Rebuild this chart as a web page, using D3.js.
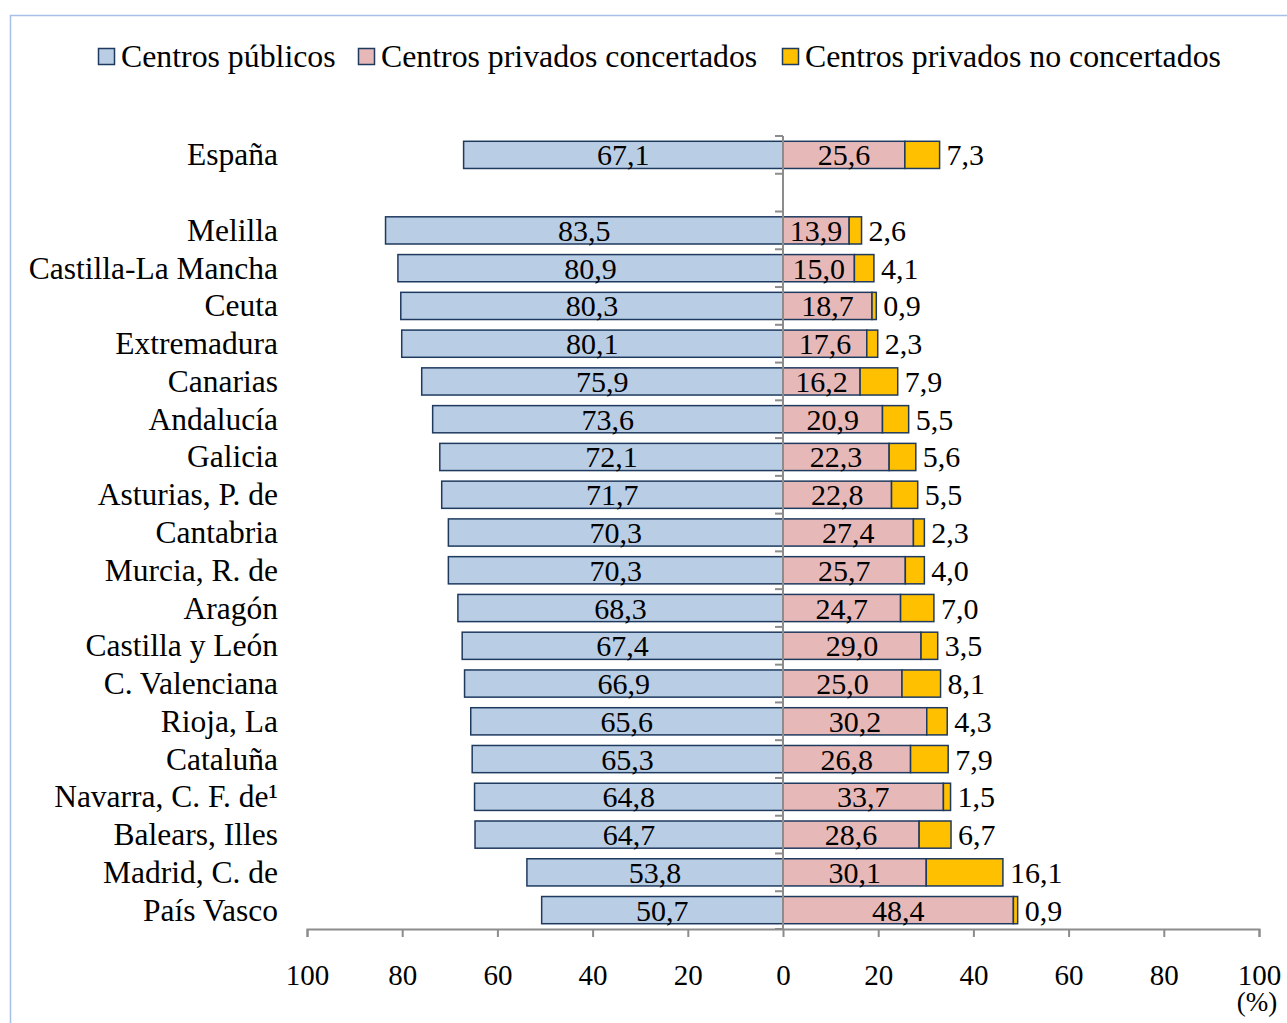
<!DOCTYPE html>
<html><head><meta charset="utf-8">
<script src="https://cdn.jsdelivr.net/npm/d3@7"></script>
<style>
html,body{margin:0;padding:0;background:#fff;}
svg{display:block;}
text{font-family:"Liberation Serif","Times New Roman",serif;fill:#000;}
</style></head>
<body>
<svg id="chart" width="1287" height="1023"></svg>
<script>
const categories = ["España", "", "Melilla", "Castilla-La Mancha", "Ceuta", "Extremadura", "Canarias", "Andalucía", "Galicia", "Asturias, P. de", "Cantabria", "Murcia, R. de", "Aragón", "Castilla y León", "C. Valenciana", "Rioja, La", "Cataluña", "Navarra, C. F. de¹", "Balears, Illes", "Madrid, C. de", "País Vasco"];
const publicos     = [67.1, null, 83.5, 80.9, 80.3, 80.1, 75.9, 73.6, 72.1, 71.7, 70.3, 70.3, 68.3, 67.4, 66.9, 65.6, 65.3, 64.8, 64.7, 53.8, 50.7];
const concertados  = [25.6, null, 13.9, 15.0, 18.7, 17.6, 16.2, 20.9, 22.3, 22.8, 27.4, 25.7, 24.7, 29.0, 25.0, 30.2, 26.8, 33.7, 28.6, 30.1, 48.4];
const noConcertados= [7.3, null, 2.6, 4.1, 0.9, 2.3, 7.9, 5.5, 5.6, 5.5, 2.3, 4.0, 7.0, 3.5, 8.1, 4.3, 7.9, 1.5, 6.7, 16.1, 0.9];
const seriesNames = ["Centros públicos", "Centros privados concertados", "Centros privados no concertados"];
const seriesColors = ["#B9CDE5", "#E6B9B8", "#FFC000"];
const xTicks = [-100, -80, -60, -40, -20, 0, 20, 40, 60, 80, 100];

const svg = d3.select("#chart");
const fmt = v => d3.format(".1f")(v).replace(".", ",");
const strokeC = "#1F3A5F";
const axisC = "#8C8C8C";

// frame
svg.append("rect").attr("x", 10.5).attr("y", 15.5).attr("width", 1290).attr("height", 1030)
  .attr("fill", "none").attr("stroke", "#A7C0E8").attr("stroke-width", 1.5);

const x = d3.scaleLinear().domain([-100, 100]).range([307, 1259]);
const y = d3.scaleBand().domain(categories).range([136, 929]).paddingInner(0.28).paddingOuter(0.14);
const step = y.step();

// legend
const legendItems = [{x: 98, tx: 121}, {x: 358, tx: 381}, {x: 782, tx: 805}];
seriesNames.forEach((n, i) => {
  const g = svg.append("g");
  g.append("rect").attr("x", legendItems[i].x + 0.5).attr("y", 48.5).attr("width", 16).attr("height", 16)
    .attr("fill", seriesColors[i]).attr("stroke", strokeC).attr("stroke-width", 1.5);
  g.append("text").attr("x", legendItems[i].tx).attr("y", 67).attr("font-size", 31.8).text(n);
});

const rows = categories.map((c, i) => ({c, p: publicos[i], cc: concertados[i], nc: noConcertados[i]})).filter(d => d.p != null);

const bh = y.bandwidth();
const g = svg.append("g");
g.selectAll("rect.pub").data(rows).join("rect")
  .attr("x", d => x(-d.p)).attr("y", d => y(d.c)).attr("width", d => x(0) - x(-d.p)).attr("height", bh)
  .attr("fill", seriesColors[0]).attr("stroke", strokeC).attr("stroke-width", 1.5);
g.selectAll("rect.cc").data(rows).join("rect")
  .attr("x", x(0)).attr("y", d => y(d.c)).attr("width", d => x(d.cc) - x(0)).attr("height", bh)
  .attr("fill", seriesColors[1]).attr("stroke", strokeC).attr("stroke-width", 1.5);
g.selectAll("rect.nc").data(rows).join("rect")
  .attr("x", d => x(d.cc)).attr("y", d => y(d.c)).attr("width", d => x(d.cc + d.nc) - x(d.cc)).attr("height", bh)
  .attr("fill", seriesColors[2]).attr("stroke", strokeC).attr("stroke-width", 1.5);

// y axis (category) line & ticks
const bounds = d3.range(categories.length + 1).map(i => 136 + i * step);
svg.append("line").attr("x1", x(0)).attr("x2", x(0)).attr("y1", 136).attr("y2", 929)
  .attr("stroke", axisC).attr("stroke-width", 2);
svg.selectAll("line.yt").data(bounds).join("line")
  .attr("x1", x(0) - 8).attr("x2", x(0)).attr("y1", d => d).attr("y2", d => d)
  .attr("stroke", axisC).attr("stroke-width", 2);

// category labels
svg.selectAll("text.cat").data(categories).join("text")
  .attr("x", 278).attr("y", d => y(d) + bh / 2 + 10.5).attr("text-anchor", "end")
  .attr("font-size", 31.5).text(d => d);

// value labels
const vy = d => y(d.c) + bh / 2 + 10.5;
g.selectAll("text.vp").data(rows).join("text")
  .attr("x", d => x(-d.p / 2)).attr("y", vy).attr("text-anchor", "middle").attr("font-size", 30)
  .text(d => fmt(d.p));
g.selectAll("text.vc").data(rows).join("text")
  .attr("x", d => x(d.cc / 2)).attr("y", vy).attr("text-anchor", "middle").attr("font-size", 30)
  .text(d => fmt(d.cc));
g.selectAll("text.vn").data(rows).join("text")
  .attr("x", d => x(d.cc + d.nc) + 7).attr("y", vy).attr("text-anchor", "start").attr("font-size", 30)
  .text(d => fmt(d.nc));

// x axis
const xAxis = svg.append("g").attr("transform", "translate(0,929)")
  .call(d3.axisBottom(x).tickValues(xTicks).tickSize(8).tickFormat(d => Math.abs(d)));
xAxis.select(".domain").attr("stroke", axisC).attr("stroke-width", 2);
xAxis.selectAll(".tick line").attr("stroke", axisC).attr("stroke-width", 2);
xAxis.selectAll(".tick text").attr("font-size", 29).attr("font-family", "Liberation Serif").attr("fill", "#000")
  .attr("y", 56).attr("dy", 0);
svg.append("text").attr("x", x(100) - 2).attr("y", 1011).attr("text-anchor", "middle").attr("font-size", 27).text("(%)");
</script>
</body></html>
